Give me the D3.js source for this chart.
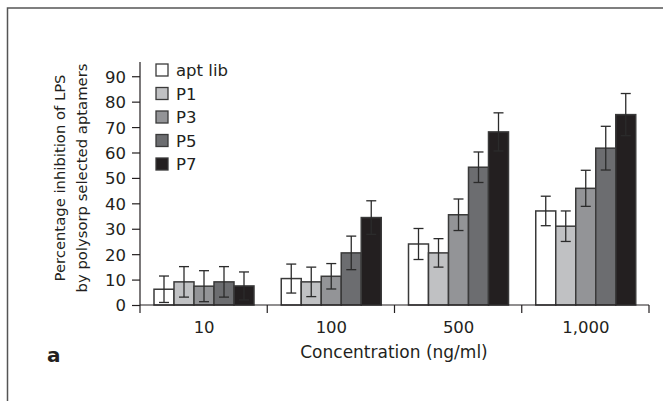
<!DOCTYPE html>
<html lang="en">
<head>
<meta charset="UTF-8">
<title>LPS inhibition</title>
<script src="https://d3js.org/d3.v7.min.js"></script>
<style>
    body { margin: 0; background: #fff; }
    svg text { font-family: "DejaVu Sans", sans-serif; fill: #231f20; }
</style>
</head>
<body>
<script>

// data
const concentrations = ['10', '100', '500', '1,000'];
const seriesNames = ['apt lib', 'P1', 'P3', 'P5', 'P7'];
const aptLib = [6.2, 10.4, 24.0, 37.0];
const p1 = [9.1, 9.1, 20.5, 31.0];
const p3 = [7.4, 11.3, 35.5, 45.9];
const p5 = [9.1, 20.5, 54.2, 61.7];
const p7 = [7.5, 34.4, 68.1, 74.9];
const aptLibErr = [5.2, 5.7, 6.1, 5.8];
const p1Err = [6.0, 5.8, 5.6, 6.0];
const p3Err = [6.1, 5.0, 6.2, 7.1];
const p5Err = [6.0, 6.6, 6.0, 8.6];
const p7Err = [5.5, 6.6, 7.5, 8.3];
const yTicks = [0, 10, 20, 30, 40, 50, 60, 70, 80, 90];

const colors = ['#ffffff', '#c0c1c3', '#939497', '#6c6d70', '#231f20'];
const values = [aptLib, p1, p3, p5, p7];
const errors = [aptLibErr, p1Err, p3Err, p5Err, p7Err];

const rows = [];
concentrations.forEach((c, i) => {
    seriesNames.forEach((s, j) => {
        rows.push({ conc: c, series: s, value: values[j][i], err: errors[j][i], color: colors[j] });
    });
});

const W = 663, H = 401;
const svg = d3.select('body').append('svg')
    .attr('width', W)
    .attr('height', H);

// figure frame (runs off the right and bottom)
svg.append('rect')
    .attr('x', 7.5).attr('y', 8)
    .attr('width', 700).attr('height', 450)
    .attr('fill', 'none')
    .attr('stroke', '#555')
    .attr('stroke-width', 1.5);

const left = 140, right = 649, base = 305;

const x = d3.scaleBand().domain(concentrations).range([left, right]);
const xInner = d3.scaleBand().domain(seriesNames).range([14, 114]);
const y = d3.scaleLinear().domain([0, 95.6]).range([base, 62]);

// bars
const g = svg.append('g');
g.selectAll('rect.bar')
    .data(rows)
    .enter()
    .append('rect')
    .attr('class', 'bar')
    .attr('x', d => x(d.conc) + xInner(d.series))
    .attr('y', d => y(d.value))
    .attr('width', xInner.bandwidth())
    .attr('height', d => y(0) - y(d.value))
    .style('fill', d => d.color)
    .style('stroke', '#3a3a3a')
    .style('stroke-width', '1.5px');

// error bars
const eb = g.selectAll('g.err')
    .data(rows)
    .enter()
    .append('g')
    .attr('class', 'err')
    .attr('transform', d => `translate(${x(d.conc) + xInner(d.series) + xInner.bandwidth() / 2},0)`)
    .style('stroke', '#2b2b2b')
    .style('stroke-width', '1.3px');
eb.append('line')
    .attr('y1', d => y(d.value + d.err))
    .attr('y2', d => y(Math.max(0, d.value - d.err)));
eb.append('line')
    .attr('x1', -5).attr('x2', 5)
    .attr('y1', d => y(d.value + d.err))
    .attr('y2', d => y(d.value + d.err));
eb.append('line')
    .attr('x1', -5).attr('x2', 5)
    .attr('y1', d => y(Math.max(0, d.value - d.err)))
    .attr('y2', d => y(Math.max(0, d.value - d.err)));

// y axis
const yAxis = svg.append('g')
    .attr('transform', `translate(${left},0)`)
    .call(d3.axisLeft(y).tickValues(yTicks).tickSize(8).tickSizeOuter(0));
yAxis.select('.domain').attr('d', `M0,${y(95.6)}V${base + 8}`);
yAxis.selectAll('path, line').attr('stroke', '#231f20').attr('stroke-width', 1.2);
yAxis.selectAll('text')
    .attr('x', -14)
    .attr('dy', '0.36em')
    .style('font-size', '16.5px');

// x axis: ticks at the band edges, labels centred in the bands
const edges = concentrations.map(c => x(c) + x.bandwidth());
const xAxis = svg.append('g');
xAxis.append('line')
    .attr('x1', left).attr('x2', right)
    .attr('y1', base).attr('y2', base)
    .attr('stroke', '#231f20').attr('stroke-width', 1.2);
xAxis.selectAll('line.tick')
    .data(edges)
    .enter()
    .append('line')
    .attr('class', 'tick')
    .attr('x1', d => d).attr('x2', d => d)
    .attr('y1', base).attr('y2', base + 8)
    .attr('stroke', '#231f20').attr('stroke-width', 1.2);
xAxis.selectAll('text')
    .data(concentrations)
    .enter()
    .append('text')
    .attr('x', d => x(d) + x.bandwidth() / 2 + 0.5)
    .attr('y', 333)
    .attr('text-anchor', 'middle')
    .style('font-size', '16.5px')
    .text(d => d);

svg.append('text')
    .attr('x', 394)
    .attr('y', 358)
    .attr('text-anchor', 'middle')
    .style('font-size', '17px')
    .text('Concentration (ng/ml)');

svg.append('text')
    .attr('x', 47)
    .attr('y', 362)
    .style('font-size', '20px')
    .style('font-weight', 'bold')
    .text('a');

// y title, two lines
const yt = svg.append('text')
    .attr('transform', 'translate(0,178) rotate(-90)')
    .attr('text-anchor', 'middle')
    .style('font-size', '14.8px');
yt.append('tspan').attr('x', 0).attr('y', 65).text('Percentage inhibition of LPS');
yt.append('tspan').attr('x', 0).attr('y', 87).text('by polysorp selected aptamers');

// legend
const legend = svg.append('g').attr('transform', 'translate(156,70)');
const li = legend.selectAll('g')
    .data(seriesNames)
    .enter()
    .append('g')
    .attr('transform', (d, i) => `translate(0,${i * 23.5})`);
li.append('rect')
    .attr('x', 0).attr('y', -6)
    .attr('width', 12).attr('height', 12)
    .style('fill', (d, i) => colors[i])
    .style('stroke', '#3a3a3a')
    .style('stroke-width', '1.3px');
li.append('text')
    .attr('x', 20)
    .attr('y', 6)
    .style('font-size', '16.5px')
    .text(d => d);

</script>
</body>
</html>
